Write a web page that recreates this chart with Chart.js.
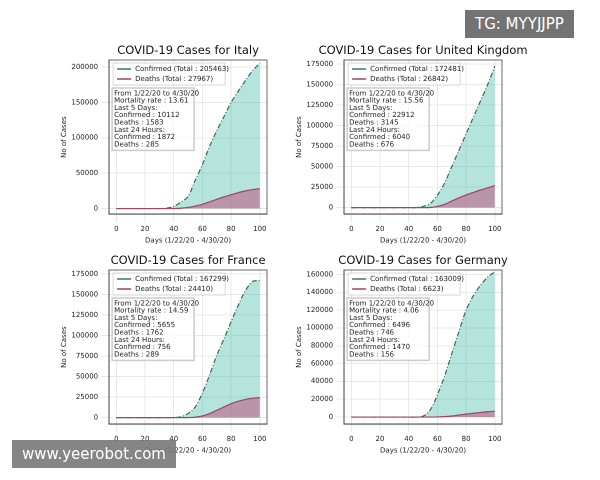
<!DOCTYPE html><html><head><script src="https://cdn.jsdelivr.net/npm/chart.js@4"></script>
<style>body{margin:0;background:#fff;width:600px;height:480px;position:relative;overflow:hidden;font-family:"DejaVu Sans"}
.p{position:absolute;width:240px;height:205px}
.wm{position:absolute;color:#fff;background:rgba(90,90,90,0.85);font-family:"DejaVu Sans";font-size:15px;padding:5px 10px}
</style></head><body>
<div class="p" style="left:60px;top:40px"><canvas id="c0" width="240" height="205"></canvas></div>
<div class="p" style="left:295px;top:40px"><canvas id="c1" width="240" height="205"></canvas></div>
<div class="p" style="left:60px;top:250px"><canvas id="c2" width="240" height="205"></canvas></div>
<div class="p" style="left:295px;top:250px"><canvas id="c3" width="240" height="205"></canvas></div>
<div class="wm" style="left:465px;top:10px">TG: MYYJJPP</div>
<div class="wm" style="left:12px;top:440px;background:rgba(120,120,120,0.9)">www.yeerobot.com</div>
<script>
const days=[0,5,10,15,20,25,30,35,40,45,50,55,60,65,70,75,80,85,90,95,100];
const countries=["Italy","United Kingdom","France","Germany"];
const confirmed=[
[0,0,0,0,0,0,0,500,3000,9000,17000,40000,62000,88000,110000,130000,150000,166000,181000,195000,205463],
[0,0,0,0,0,0,0,0,0,200,1500,5000,15000,30000,50000,70000,90000,110000,130000,150000,172481],
[0,0,0,0,0,0,0,0,200,1000,5000,13000,30000,52000,76000,96000,117000,137000,155000,166000,167299],
[0,0,0,0,0,0,0,0,0,0,1000,8000,25000,46000,71000,96000,120000,136000,148000,157000,163009]];
const deaths=[
[0,0,0,0,0,0,0,0,0,400,1500,3500,6000,9500,13000,16500,19500,22500,25000,26800,27967],
[0,0,0,0,0,0,0,0,0,0,0,200,1500,4000,8000,12000,15500,18500,21500,24000,26842],
[0,0,0,0,0,0,0,0,0,0,50,500,2000,5000,9000,13000,17000,20000,22200,23600,24410],
[0,0,0,0,0,0,0,0,0,0,0,20,150,500,1200,2300,3300,4300,5200,6000,6623]];
const totals=[[205463,27967],[172481,26842],[167299,24410],[163009,6623]];
const infos=[["13.61","10112","1583","1872","285"],["15.56","22912","3145","6040","676"],["14.59","5655","1762","756","289"],["4.06","6496","746","1470","156"]];
const yMax=[210000,180000,180000,165000];
const ySteps=[50000,25000,25000,20000];
const xTicks=[0,20,40,60,80,100];
const F="DejaVu Sans";
countries.forEach((c,i)=>{
 const boxPlugin={id:'box',afterDatasetsDraw(ch){
  const a=ch.chartArea,x=ch.ctx;x.save();
  x.strokeStyle='#444';x.lineWidth=0.8;x.strokeRect(a.left,a.top,a.right-a.left,a.bottom-a.top);
  x.fillStyle='#111';x.font="11.5px "+F;x.textAlign='center';x.textBaseline='bottom';
  x.fillText('COVID-19 Cases for '+c,(a.left+a.right)/2,a.top-3);
  x.textAlign='left';
  x.font="7px "+F;x.textBaseline='middle';
  const lx=a.left+4,ly=a.top+3;
  x.fillStyle='rgba(255,255,255,0.85)';x.strokeStyle='#ccc';x.lineWidth=0.8;
  x.fillRect(lx,ly,112,22);x.strokeRect(lx,ly,112,22);
  const items=[['#2e7d6b','Confirmed (Total : '+totals[i][0]+')'],['#a0445f','Deaths (Total : '+totals[i][1]+')']];
  items.forEach((it,k)=>{const yy=ly+6+k*10;x.strokeStyle=it[0];x.lineWidth=1.5;x.beginPath();x.moveTo(lx+4,yy);x.lineTo(lx+18,yy);x.stroke();x.fillStyle='#222';x.fillText(it[1],lx+22,yy);});
  const inf=infos[i];
  const lines=['From 1/22/20 to 4/30/20','Mortality rate : '+inf[0],'Last 5 Days:','Confirmed : '+inf[1],'Deaths : '+inf[2],'Last 24 Hours:','Confirmed : '+inf[3],'Deaths : '+inf[4]];
  const bx=a.left+3,by=a.top+28;
  x.fillStyle='rgba(255,255,255,0.75)';x.strokeStyle='#ccc';
  x.fillRect(bx,by,82,lines.length*7.3+4);x.strokeRect(bx,by,82,lines.length*7.3+4);
  x.fillStyle='#222';lines.forEach((t,k)=>x.fillText(t,bx+2,by+5.5+k*7.3));
  x.restore();}};
 new Chart(document.getElementById('c'+i),{type:'line',
  data:{datasets:[
   {data:days.map((d,k)=>({x:d,y:deaths[i][k]})),borderColor:'#a0445f',borderWidth:1.2,backgroundColor:'rgba(190,95,135,0.6)',fill:'origin',pointRadius:0,tension:0.3},
   {data:days.map((d,k)=>({x:d,y:confirmed[i][k]})),borderColor:'#2e6e5e',borderDash:[5,2,1,2],borderWidth:1.2,backgroundColor:'rgba(90,195,180,0.45)',fill:'origin',pointRadius:0,tension:0.3}]},
  options:{responsive:false,animation:false,devicePixelRatio:2,
   layout:{padding:{right:33,top:20}},
   plugins:{legend:{display:false},tooltip:{enabled:false},title:{display:false}},
   scales:{x:{type:'linear',min:-5,max:105,afterBuildTicks:s=>{s.ticks=xTicks.map(v=>({value:v}));},ticks:{color:'#222',font:{family:F,size:7}},grid:{color:'#e8e8e8'},border:{color:'#444'},
      title:{display:true,text:'Days (1/22/20 - 4/30/20)',color:'#222',font:{family:F,size:7},padding:0}},
    y:{min:-8000,max:yMax[i],afterBuildTicks:s=>{const t=[];for(let v=0;v<=yMax[i];v+=ySteps[i])t.push({value:v});s.ticks=t;},ticks:{color:'#222',font:{family:F,size:7},callback:v=>String(v)},grid:{color:'#e8e8e8'},border:{color:'#444'},
      title:{display:true,text:'No of Cases',color:'#222',font:{family:F,size:7},padding:0}}}},
  plugins:[boxPlugin]});
});
</script></body></html>
